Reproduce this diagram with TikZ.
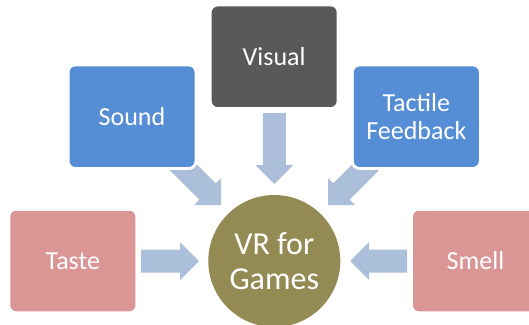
\documentclass[tikz,border=0pt]{standalone}
\usepackage{fontspec}
\setmainfont{Carlito}
\usetikzlibrary{calc}
\definecolor{visgray}{HTML}{595959}
\definecolor{boxblue}{HTML}{558ED5}
\definecolor{boxpink}{HTML}{D99694}
\definecolor{olive}{HTML}{948A54}
\definecolor{arrowcol}{HTML}{ABBEDA}
\newcommand{\blkarrow}[3]{%
  \coordinate (#1h) at ($(#3)!19pt!(#2)$);
  \fill[arrowcol] ($(#2)!11.5pt!90:(#3)$) -- ($(#1h)!11.5pt!90:(#3)$) --
    ($(#1h)!19pt!90:(#3)$) -- (#3) -- ($(#1h)!19pt!-90:(#3)$) --
    ($(#1h)!11.5pt!-90:(#3)$) -- ($(#2)!11.5pt!-90:(#3)$) -- cycle;
}
\begin{document}
\begin{tikzpicture}[x=1pt,y=-1pt,
  sensebox/.style={rounded corners=6pt, minimum width=125pt, minimum height=100.5pt,
    inner sep=0pt, text=white, align=center,
    font=\fontsize{26}{28}\selectfont,
    preaction={draw=white, line width=6pt}},
  hubnode/.style={circle, fill=olive, minimum size=132pt, inner sep=0pt,
    text=white, align=center, font=\fontsize{32}{35}\selectfont,
    preaction={draw=white, line width=5pt}}]
\useasboundingbox (0,0) rectangle (529,324);
\clip (0,0) rectangle (529,324);
% arrow end points
\coordinate (vis-s) at (274.3,113);
\coordinate (vis-t) at (274.3,184);
\coordinate (snd-s) at (171,155);
\coordinate (snd-t) at (221,205);
\coordinate (tac-s) at (378,155);
\coordinate (tac-t) at (328,205);
\coordinate (tas-s) at (141,261);
\coordinate (tas-t) at (199,261);
\coordinate (sml-s) at (407,261);
\coordinate (sml-t) at (350,261);
\blkarrow{va}{vis-s}{vis-t}
\blkarrow{sa}{snd-s}{snd-t}
\blkarrow{ta}{tac-s}{tac-t}
\blkarrow{tsa}{tas-s}{tas-t}
\blkarrow{sma}{sml-s}{sml-t}
% boxes
\node[sensebox, fill=visgray] (visual) at (274.2,56.7) {Visual};
\node[sensebox, fill=boxblue] (sound) at (132,116.7) {Sound};
\node[sensebox, fill=boxblue] (tactile) at (416.3,116.7) {Tactile\\Feedback};
\node[sensebox, fill=boxpink] (taste) at (72.8,261) {Taste};
\node[sensebox, fill=boxpink] (smell) at (475.5,261) {Smell};
\node[hubnode] (hub) at (274.3,261) {VR for\\Games};
\end{tikzpicture}
\end{document}
